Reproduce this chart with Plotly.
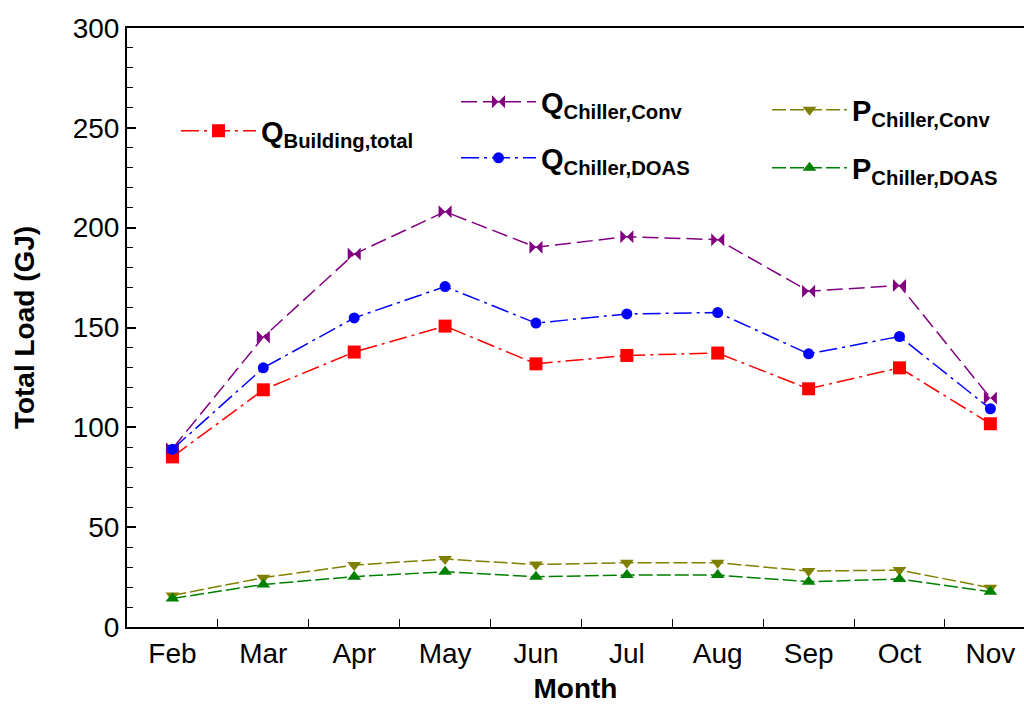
import plotly.graph_objects as go

# Monthly loads (GJ)
months = ["Feb", "Mar", "Apr", "May", "Jun", "Jul", "Aug", "Sep", "Oct", "Nov"]
q_building_total = [85.2, 118.8, 137.7, 150.7, 131.8, 136.0, 137.2, 119.3, 129.8, 101.8]
q_chiller_conv = [89.3, 145.2, 186.8, 208.0, 190.2, 195.5, 194.0, 168.2, 171.0, 114.7]
q_chiller_doas = [89.0, 129.8, 154.8, 170.5, 152.2, 156.8, 157.5, 136.8, 145.5, 109.3]
p_chiller_conv = [15.8, 24.7, 31.0, 34.0, 31.3, 32.2, 32.2, 28.0, 28.5, 19.7]
p_chiller_doas = [14.3, 21.3, 25.2, 27.7, 25.2, 26.0, 26.0, 22.7, 24.0, 17.7]

FONT = "Liberation Sans"

series = [
    dict(y=q_building_total, name="Q<sub>Building,total</sub>", color="#FF0000",
         symbol="square", size=13, dash="18px,5px,3px,5px", legend="legend"),
    dict(y=q_chiller_conv, name="Q<sub>Chiller,Conv</sub>", color="#800080",
         symbol="bowtie", size=13, dash="16px,6px", legend="legend2"),
    dict(y=q_chiller_doas, name="Q<sub>Chiller,DOAS</sub>", color="#0000FF",
         symbol="circle", size=11, dash="18px,5px,3px,5px", legend="legend3"),
    dict(y=p_chiller_conv, name="P<sub>Chiller,Conv</sub>", color="#808000",
         symbol="triangle-down", size=12, dash="14px,4px", legend="legend4"),
    dict(y=p_chiller_doas, name="P<sub>Chiller,DOAS</sub>", color="#008000",
         symbol="triangle-up", size=12, dash="14px,4px", legend="legend5"),
]

fig = go.Figure()
for s in series:
    fig.add_trace(go.Scatter(
        x=months, y=s["y"], name=s["name"], mode="lines+markers",
        line=dict(color=s["color"], width=1.5, dash=s["dash"]),
        marker=dict(symbol=s["symbol"], size=s["size"], color=s["color"],
                    line=dict(width=0)),
        legend=s["legend"],
    ))

W, H = 1024, 704
ML, MR, MT, MB = 127, 0, 28, 77
PW, PH = W - ML - MR, H - MT - MB


def px_to_paper(xp, yp):
    return (xp - ML) / PW, (H - MB - yp) / PH


legend_pos = {
    "legend": (176, 131),
    "legend2": (456, 102),
    "legend3": (456, 158),
    "legend4": (767, 110),
    "legend5": (767, 168),
}
leg_font = dict(family=FONT, size=29, color="black", weight="bold")
legends = {}
for key, (xp, yp) in legend_pos.items():
    lx, ly = px_to_paper(xp, yp)
    legends[key] = dict(x=lx, y=ly, xanchor="left", yanchor="middle",
                        bgcolor="rgba(0,0,0,0)", font=leg_font,
                        itemwidth=75, borderwidth=0)

fig.update_layout(
    width=W, height=H,
    margin=dict(l=ML, r=MR, t=MT, b=MB),
    plot_bgcolor="white", paper_bgcolor="white",
    font=dict(family=FONT, color="black"),
    showlegend=True,
    **legends,
)

fig.update_xaxes(
    type="category", range=[-0.5, 9.37],
    showline=True, linecolor="black", linewidth=2, mirror=True,
    ticks="inside", tickson="boundaries", ticklen=8, tickwidth=1.2, tickcolor="black",
    showgrid=False, zeroline=False,
    tickfont=dict(family=FONT, size=28, color="black"),
    title=dict(text="<b>Month</b>", font=dict(family=FONT, size=28, color="black"),
               standoff=12),
)
fig.update_yaxes(
    range=[0, 300], dtick=50, tick0=0,
    showline=True, linecolor="black", linewidth=2,
    ticks="inside", ticklen=9, tickwidth=1.5, tickcolor="black",
    minor=dict(dtick=10, ticks="inside", ticklen=6, tickwidth=1.2, tickcolor="black",
               showgrid=False),
    showgrid=False, zeroline=False,
    tickfont=dict(family=FONT, size=28, color="black"),
    title=dict(text="<b>Total Load (GJ)</b>", font=dict(family=FONT, size=28, color="black"),
               standoff=30),
)

fig.write_html("out.html")
